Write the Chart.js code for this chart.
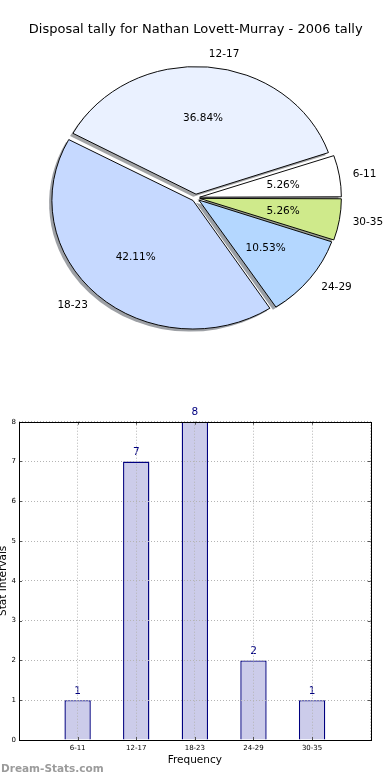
<!DOCTYPE html>
<html>
<head>
<meta charset="utf-8">
<script src="https://cdn.jsdelivr.net/npm/chart.js@4.4.1/dist/chart.umd.min.js"></script>
<style>
    html, body { margin: 0; padding: 0; background: #fff; }
    body { width: 390px; height: 780px; position: relative; overflow: hidden; }
    #pie { position: absolute; left: 0; top: 0; }
    #bar { position: absolute; left: 0; top: 390px; }
    .watermark {
        position: absolute; left: 1px; top: 762px;
        font: bold 10.5px "DejaVu Sans", sans-serif; color: #9b9b9b;
    }
</style>
</head>
<body>
<canvas id="pie" width="390" height="390"></canvas>
<canvas id="bar" width="390" height="390"></canvas>
<div class="watermark">Dream-Stats.com</div>
<script>
const TITLE = "Disposal tally for Nathan Lovett-Murray - 2006 tally";
const categories = ["6-11", "12-17", "18-23", "24-29", "30-35"];
const counts = [1, 7, 8, 2, 1];
const sliceColors = ["#ffffff", "#eaf1ff", "#c6d9ff", "#b4d7ff", "#cfea8b"];

Chart.defaults.font.family = "'DejaVu Sans', sans-serif";
Chart.defaults.color = "#000";

// matplotlib drew the pie squashed a little, and counter-clockwise from 3 o'clock
const PIE_SQUASH = 0.911;
const LABEL_RADIUS = 141;

const pieLabels = categories.slice().reverse();
const pieValues = counts.slice().reverse();
const pieColors = sliceColors.slice().reverse();
const total = counts.reduce((a, b) => a + b, 0);

const arcGeom = (arc) => {
    const mid = (arc.startAngle + arc.endAngle) / 2;
    const off = (arc.options.offset || 0) / 4;
    const fix = 1 - Math.sin(Math.min(Math.PI, arc.circumference));
    return { mid, off, r: arc.outerRadius + off * fix };
};

const shadowOf = (hex) => {
    const n = parseInt(hex.slice(1), 16);
    const r = ((n >> 16) & 255) * 0.3, g = ((n >> 8) & 255) * 0.3, b = (n & 255) * 0.3;
    return `rgba(${r | 0}, ${g | 0}, ${b | 0}, 0.5)`;
};

const pieShape = {
    id: "pieShape",
    beforeDatasetsDraw(chart) {
        const ctx = chart.ctx;
        const arcs = chart.getDatasetMeta(0).data;
        const cx = arcs[0].x, cy = arcs[0].y;
        ctx.save();
        ctx.translate(cx, cy);
        ctx.scale(1, PIE_SQUASH);
        ctx.translate(-cx, -cy);
        // drop shadow under every wedge
        ctx.save();
        ctx.translate(-2.8, 2.6 / PIE_SQUASH);
        arcs.forEach((arc) => {
            const g = arcGeom(arc);
            const x = arc.x + Math.cos(g.mid) * g.off;
            const y = arc.y + Math.sin(g.mid) * g.off;
            ctx.beginPath();
            ctx.moveTo(x, y);
            ctx.arc(x, y, g.r, arc.startAngle, arc.endAngle);
            ctx.closePath();
            ctx.fillStyle = shadowOf(arc.options.backgroundColor);
            ctx.fill();
        });
        ctx.restore();
    },
    afterDatasetsDraw(chart) {
        const ctx = chart.ctx;
        ctx.restore();
        const arcs = chart.getDatasetMeta(0).data;
        ctx.save();
        ctx.fillStyle = "#000";
        ctx.font = "10.5px 'DejaVu Sans'";
        ctx.textBaseline = "middle";
        arcs.forEach((arc, i) => {
            const g = arcGeom(arc);
            const c = Math.cos(g.mid), s = Math.sin(g.mid);
            const ex = arc.x + c * g.off;
            const ey = arc.y + s * g.off * PIE_SQUASH;
            ctx.textAlign = c >= 0 ? "left" : "right";
            ctx.fillText(pieLabels[i], ex + 1.1 * LABEL_RADIUS * c, ey + 1.1 * LABEL_RADIUS * PIE_SQUASH * s + 0.8);
            ctx.textAlign = "center";
            const pct = ((pieValues[i] / total) * 100).toFixed(2) + "%";
            ctx.fillText(pct, ex + 0.6 * LABEL_RADIUS * c, ey + 0.6 * LABEL_RADIUS * PIE_SQUASH * s + 0.5);
        });
        ctx.restore();
    },
};

new Chart(document.getElementById("pie"), {
    type: "pie",
    data: {
        labels: pieLabels,
        datasets: [
            {
                data: pieValues,
                backgroundColor: pieColors,
                borderColor: "#000",
                borderWidth: 1,
                borderJoinStyle: "miter",
                offset: 16,
                radius: 139,
            },
        ],
    },
    options: {
        responsive: false,
        animation: false,
        rotation: 90,
        layout: { padding: { left: 1.4, right: 0, top: 0, bottom: 32 } },
        plugins: {
            legend: { display: false },
            tooltip: { enabled: false },
            title: {
                display: true,
                text: TITLE,
                color: "#000",
                font: { size: 13, weight: "normal" },
                padding: { top: 22, bottom: 0 },
            },
        },
    },
    plugins: [pieShape],
});

// bar chart: linear x so the bars sit at 1..5 on a 0..6 axis like the original
const barPoints = categories.map((c, i) => ({ x: i + 1, y: counts[i] }));

const frame = {
    id: "frame",
    afterDraw(chart) {
        const { ctx, chartArea: a, scales } = chart;
        ctx.save();
        ctx.strokeStyle = "#555";
        ctx.lineWidth = 1;
        ctx.beginPath();
        for (let v = 1; v <= 5; v++) {
            const x = Math.round(scales.x.getPixelForValue(v)) + 0.5;
            ctx.moveTo(x, a.top); ctx.lineTo(x, a.top + 3);
            ctx.moveTo(x, a.bottom); ctx.lineTo(x, a.bottom - 3);
        }
        for (let v = 1; v <= 7; v++) {
            const y = Math.round(scales.y.getPixelForValue(v)) + 0.5;
            ctx.moveTo(a.left, y); ctx.lineTo(a.left + 3, y);
            ctx.moveTo(a.right, y); ctx.lineTo(a.right - 3, y);
        }
        ctx.stroke();
        ctx.strokeStyle = "#000";
        ctx.strokeRect(Math.round(a.left) + 0.5, Math.round(a.top) + 0.5,
            Math.round(a.right - a.left), Math.round(a.bottom - a.top));
        ctx.restore();
    },
};

const valueLabels = {
    id: "valueLabels",
    afterDatasetsDraw(chart) {
        const ctx = chart.ctx;
        ctx.save();
        ctx.fillStyle = "#000080";
        ctx.font = "10.5px 'DejaVu Sans'";
        ctx.textAlign = "center";
        ctx.textBaseline = "middle";
        chart.getDatasetMeta(0).data.forEach((bar, i) => {
            ctx.fillText(String(counts[i]), bar.x, bar.y - 9);
        });
        ctx.restore();
    },
};

const gridStyle = { color: "#b4b4b4", drawTicks: false, offset: false, z: 1 };

new Chart(document.getElementById("bar"), {
    type: "bar",
    data: {
        datasets: [
            {
                data: barPoints,
                backgroundColor: "#ccccea",
                borderColor: "#000080",
                borderWidth: 1.4,
                borderSkipped: "bottom",
                barPercentage: 0.45,
                categoryPercentage: 1,
            },
        ],
    },
    options: {
        responsive: false,
        animation: false,
        layout: { padding: { top: 31.7, right: 19.3, bottom: 0, left: 0 } },
        plugins: {
            legend: { display: false },
            tooltip: { enabled: false },
        },
        scales: {
            x: {
                type: "linear",
                min: 0,
                max: 6,
                offset: false,
                grid: gridStyle,
                border: { display: false, dash: [1, 2] },
                ticks: {
                    stepSize: 1,
                    autoSkip: false,
                    maxRotation: 0,
                    padding: 4,
                    font: { size: 7 },
                    callback: (v) => categories[v - 1] || "",
                },
                title: {
                    display: true,
                    text: "Frequency",
                    font: { size: 10.5 },
                    padding: { top: 0, bottom: 13.7 },
                },
                afterFit: (scale) => { scale.height = 40; },
            },
            y: {
                min: 0,
                max: 8,
                grid: gridStyle,
                border: { display: false, dash: [1, 2] },
                ticks: { stepSize: 1, padding: 3, font: { size: 7 } },
                title: {
                    display: true,
                    text: "Stat Intervals",
                    font: { size: 10.5 },
                    padding: { top: -3.3, bottom: 0 },
                },
                afterFit: (scale) => { scale.width = 19; },
            },
        },
    },
    plugins: [frame, valueLabels],
});
</script>
</body>
</html>
